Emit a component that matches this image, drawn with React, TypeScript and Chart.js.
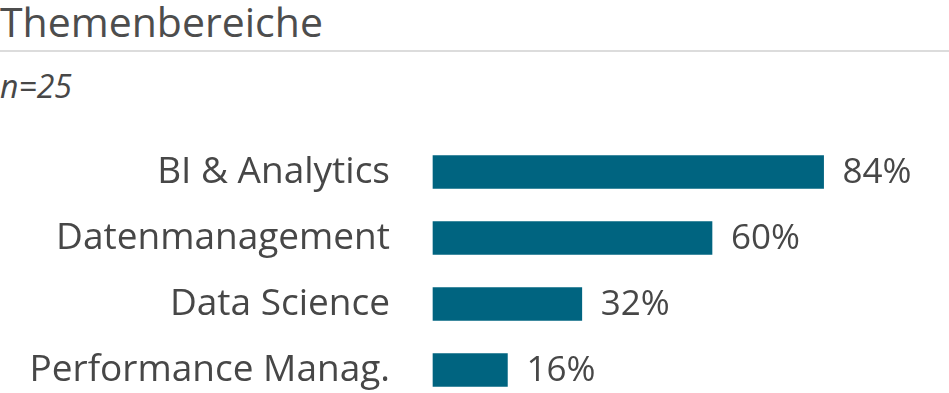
import React, { useEffect, useRef } from "react";
import { Chart, registerables } from "chart.js";

Chart.register(...registerables);

const titleText = "Themenbereiche";
const subtitleText = "n=25";
const categories = ["BI & Analytics", "Datenmanagement", "Data Science", "Performance Manag."];
const values = [84, 60, 32, 16];

const BAR_COLOR = "#006480";
const TEXT_COLOR = "#474747";
const FONT = "'Open Sans', 'Noto Sans', sans-serif";

const valueLabels = {
  id: "valueLabels",
  afterDatasetsDraw(chart: any) {
    const ctx = chart.ctx;
    const meta = chart.getDatasetMeta(0);
    ctx.save();
    ctx.font = `35px ${FONT}`;
    ctx.fillStyle = TEXT_COLOR;
    ctx.textAlign = "left";
    ctx.textBaseline = "middle";
    meta.data.forEach((bar: any, i: number) => {
      ctx.fillText(`${values[i]}%`, bar.x + 19, bar.y + 1);
    });
    ctx.restore();
  },
};

export default function App() {
  const ref = useRef<HTMLCanvasElement | null>(null);

  useEffect(() => {
    if (!ref.current) return;
    const chart = new Chart(ref.current, {
      type: "bar",
      data: {
        labels: categories,
        datasets: [
          {
            data: values,
            backgroundColor: BAR_COLOR,
            barThickness: 33,
            clip: false as any,
          },
        ],
      },
      options: {
        indexAxis: "y",
        animation: false,
        responsive: false,
        maintainAspectRatio: false,
        layout: { padding: { top: 172, bottom: 23, right: 51, left: 0 } },
        plugins: {
          legend: { display: false },
          tooltip: { enabled: false },
        },
        scales: {
          x: {
            display: false,
            min: 0,
            max: 100,
          },
          y: {
            offset: false,
            grid: { display: false, drawTicks: false },
            border: { display: false },
            ticks: {
              padding: 43,
              color: TEXT_COLOR,
              font: { family: FONT, size: 37 },
            },
            afterFit(scale: any) {
              scale.width = 433;
              scale.paddingTop = 0;
              scale.paddingBottom = 0;
            },
          },
        },
      },
      plugins: [valueLabels],
    });
    return () => chart.destroy();
  }, []);

  return (
    <div style={{ position: "absolute", left: 0, top: 0, width: 949, height: 393, background: "#fff", overflow: "hidden" }}>
      <div
        style={{
          position: "absolute",
          left: 0,
          top: 1,
          fontFamily: FONT,
          fontSize: 41,
          lineHeight: "41px",
          color: "#4d4d4d",
          whiteSpace: "nowrap",
        }}
      >
        {titleText}
      </div>
      <div style={{ position: "absolute", left: 0, top: 50, width: 949, height: 2, background: "#dcdcdc" }} />
      <div
        style={{
          position: "absolute",
          left: 0,
          top: 70,
          fontFamily: FONT,
          fontStyle: "italic",
          fontSize: 32,
          lineHeight: "32px",
          color: TEXT_COLOR,
          whiteSpace: "nowrap",
        }}
      >
        {subtitleText}
      </div>
      <canvas ref={ref} width={949} height={393} style={{ position: "absolute", left: 0, top: 0 }} />
    </div>
  );
}
